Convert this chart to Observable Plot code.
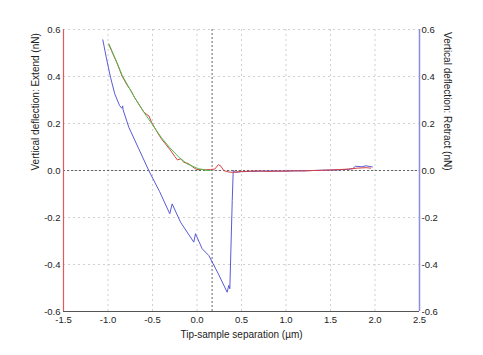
<!DOCTYPE html>
<html><head><meta charset="utf-8">
<script src="https://cdn.jsdelivr.net/npm/d3@7"></script>
<script src="https://cdn.jsdelivr.net/npm/@observablehq/plot@0.6"></script>
<style>body{margin:0;background:#fff}</style>
</head><body><div id="chart"></div>
<script>
const xTicks = [-1.5, -1.0, -0.5, 0.0, 0.5, 1.0, 1.5, 2.0, 2.5];
const yTicks = [-0.6, -0.4, -0.2, 0.0, 0.2, 0.4, 0.6];
const contactX = 0.17;
const xLabel = "Tip-sample separation (µm)";
const leftLabel = "Vertical deflection: Extend (nN)";
const rightLabel = "Vertical deflection: Retract (nN)";

// Retract curve (blue)
const retractX = [-1.058, -1.02, -0.972, -0.924, -0.871, -0.845, -0.835, -0.83, -0.766, -0.654, -0.542, -0.42, -0.306, -0.279, -0.185, -0.036, -0.017, 0.058, 0.133, 0.24, 0.339, 0.357, 0.369, 0.396, 0.407, 0.43, 0.5, 0.6, 0.7, 0.8, 0.9, 1.0, 1.1, 1.2, 1.3, 1.4, 1.5, 1.6, 1.7, 1.75, 1.78, 1.85, 1.9, 1.97];
const retractY = [0.556, 0.482, 0.397, 0.326, 0.277, 0.265, 0.275, 0.258, 0.184, 0.092, 0.0, -0.09, -0.184, -0.142, -0.22, -0.305, -0.269, -0.333, -0.362, -0.44, -0.518, -0.489, -0.503, -0.128, 0.0, -0.008, -0.005, -0.004, -0.003, -0.002, -0.003, -0.002, -0.002, -0.001, 0.0, 0.001, 0.002, 0.003, 0.005, 0.008, 0.018, 0.016, 0.02, 0.015];

// Extend fit (green)
const fitX = [-0.99, -0.9, -0.84, -0.7, -0.6, -0.51, -0.4, -0.31, -0.2, -0.11, 0.02, 0.1, 0.15];
const fitY = [0.539, 0.46, 0.404, 0.31, 0.25, 0.2, 0.14, 0.099, 0.055, 0.028, 0.007, 0.001, 0.0];

// Extend curve (red)
const extendX = [-0.99, -0.9, -0.84, -0.78, -0.75, -0.7, -0.6, -0.57, -0.54, -0.51, -0.45, -0.4, -0.31, -0.25, -0.22, -0.18, -0.15, -0.1, -0.07, -0.03, 0.0, 0.05, 0.1, 0.15, 0.2, 0.24, 0.27, 0.3, 0.35, 0.4, 0.5, 0.6, 0.7, 0.8, 0.9, 1.0, 1.1, 1.2, 1.3, 1.4, 1.5, 1.6, 1.7, 1.8, 1.9, 1.95];
const extendY = [0.535, 0.458, 0.4, 0.36, 0.345, 0.31, 0.25, 0.24, 0.232, 0.205, 0.165, 0.135, 0.092, 0.06, 0.045, 0.05, 0.035, 0.03, 0.022, 0.01, 0.004, 0.005, 0.003, 0.004, 0.006, 0.025, 0.018, 0.0, -0.006, -0.008, -0.004, -0.003, -0.002, -0.004, -0.002, -0.003, -0.001, -0.002, 0.0, 0.001, 0.002, 0.004, 0.006, 0.01, 0.012, 0.01];

const retract = retractX.map((x, i) => ({x, y: retractY[i]}));
const fit = fitX.map((x, i) => ({x, y: fitY[i]}));
const extend = extendX.map((x, i) => ({x, y: extendY[i]}));
const fmt = d => d.toFixed(1);

const chart = Plot.plot({
  width: 483, height: 355,
  marginLeft: 63, marginRight: 64, marginTop: 29, marginBottom: 44,
  x: {domain: [-1.5, 2.5]},
  y: {domain: [-0.6, 0.6]},
  style: {fontFamily: "Liberation Sans, Arial, sans-serif", fontSize: "9.5px", background: "#fff", color: "#222"},
  marks: [
    Plot.ruleX(xTicks, {stroke: "#d0d0d0", strokeDasharray: "2,3"}),
    Plot.ruleY(yTicks, {stroke: "#d0d0d0", strokeDasharray: "2,3"}),
    Plot.ruleY([0], {stroke: "#666", strokeDasharray: "2,2"}),
    Plot.ruleX([contactX], {stroke: "#999", strokeWidth: 1.5, strokeDasharray: "2,2"}),
    Plot.line(retract, {x: "x", y: "y", stroke: "#5a5ad6", strokeWidth: 1}),
    Plot.line(extend, {x: "x", y: "y", stroke: "#d84040", strokeWidth: 1}),
    Plot.line(fit, {x: "x", y: "y", stroke: "#4cc04c", strokeWidth: 1}),
    Plot.axisX({ticks: xTicks, tickFormat: fmt, tickSize: 0, tickPadding: 5, label: null}),
    Plot.axisY({anchor: "left", ticks: yTicks, tickFormat: fmt, tickSize: 0, tickPadding: 3, label: null}),
    Plot.axisY({anchor: "right", ticks: yTicks, tickFormat: fmt, tickSize: 0, tickPadding: 2, label: null}),
    Plot.ruleX([-1.5], {stroke: "#e05a5a", strokeWidth: 1.2}),
    Plot.ruleX([2.5], {stroke: "#8c8ce0", strokeWidth: 1.5}),
    Plot.ruleY([-0.6], {stroke: "#555", strokeWidth: 1.2}),
    Plot.text([xLabel], {frameAnchor: "bottom", dy: 23, lineAnchor: "middle", fontSize: 10, fill: "#222"}),
    Plot.text([leftLabel], {frameAnchor: "left", dx: -28, rotate: -90, lineAnchor: "middle", fontSize: 10, fill: "#222"}),
    Plot.text([rightLabel], {frameAnchor: "right", dx: 28, rotate: 90, lineAnchor: "middle", fontSize: 10, fill: "#222"})
  ]
});
document.getElementById("chart").appendChild(chart);
</script>
</body></html>
